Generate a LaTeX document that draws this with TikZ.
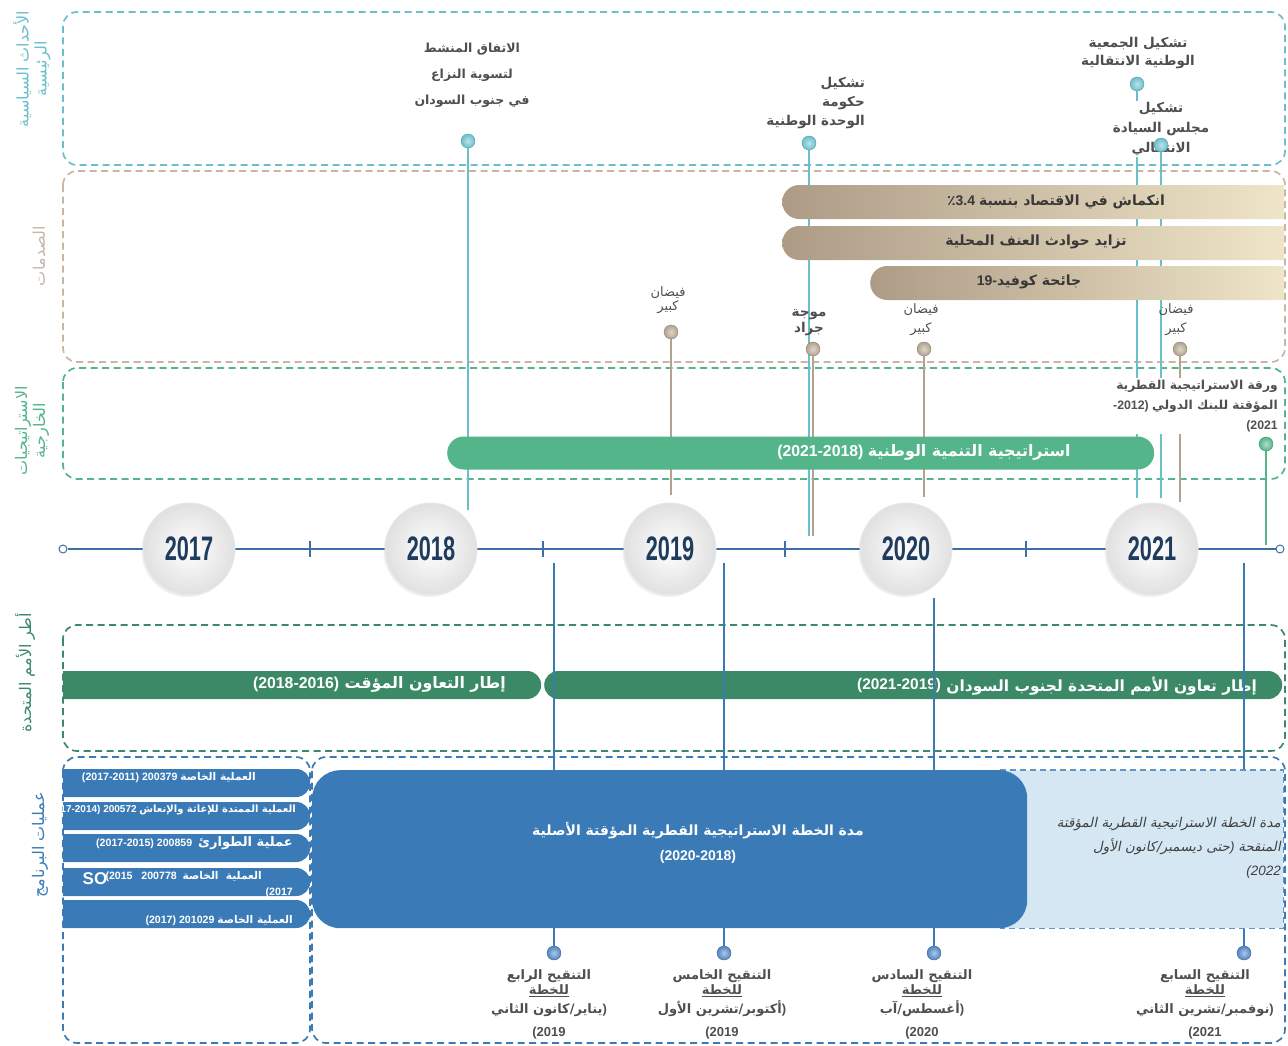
\documentclass[tikz,border=0pt]{standalone}
\usepackage{fontspec}
\usepackage{graphicx}
\setmainfont{Liberation Sans}
\newfontfamily\arabicfont[Script=Arabic]{DejaVu Sans}
\newfontfamily\arabicslant[Script=Arabic,FakeSlant=0.2]{DejaVu Sans}
\TeXXeTstate=1
\usetikzlibrary{positioning,shapes.misc,shadows}

\newcommand{\artxt}[1]{{\arabicfont\beginR #1\endR}}
\newcommand{\arslant}[1]{{\arabicslant\beginR #1\endR}}

\definecolor{polteal}{HTML}{6BBFCB}
\definecolor{shocktan}{HTML}{C6B6A4}
\definecolor{shockpin}{HTML}{B3A28D}
\definecolor{shockdark}{HTML}{AD9B86}
\definecolor{shocklight}{HTML}{EFE5C8}
\definecolor{stratgreen}{HTML}{54B58B}
\definecolor{ungreen}{HTML}{3C8968}
\definecolor{progblue}{HTML}{3A7BB7}
\definecolor{revblue}{HTML}{4F84C2}
\definecolor{palblue}{HTML}{D5E7F3}
\definecolor{axisblue}{HTML}{3D6FA6}
\definecolor{yearnavy}{HTML}{1F3C5E}
\definecolor{labgray}{HTML}{4F4F4F}

\tikzset{
	zone/.style={draw=#1, line width=1.7pt, dash pattern=on 7pt off 4.5pt, rounded corners=14pt},
	sidelab/.style={rotate=90, align=center, text=#1, font=\fontsize{16}{18}\selectfont},
	stem/.style={draw=#1, line width=1.4pt},
	evdot/.style={circle, inner sep=0pt, minimum size=14pt, inner color=#1!45, outer color=#1, draw=#1!80!black, line width=0.4pt},
	evlab/.style={text=labgray, align=center, inner sep=1pt, font=\fontsize{13.5}{#1}\selectfont\bfseries},
	yearball/.style={circle, minimum size=92pt, inner sep=0pt, inner color=white, outer color=black!12, draw=black!9, line width=1pt, text=yearnavy, font=\fontsize{34}{34}\selectfont\bfseries, drop shadow={shadow xshift=-1.5pt, shadow yshift=-2pt, opacity=0.12}},
	axend/.style={circle, draw=axisblue, fill=white, line width=1pt, minimum size=8pt, inner sep=0pt},
	axisline/.style={draw=axisblue, line width=1.4pt},
	shockbar/.style={rounded rectangle, rounded rectangle right arc=none, anchor=west, minimum height=34pt, inner sep=0pt, left color=shockdark, middle color=shockdark!80!shocklight, right color=shocklight},
	shocktext/.style={text=black!78, font=\fontsize{14}{16}\selectfont\bfseries},
	bartext/.style={text=white, inner sep=0pt, font=\fontsize{#1}{16}\selectfont\bfseries},
	opbar/.style={rounded rectangle, rounded rectangle left arc=none, anchor=west, fill=progblue, minimum width=247pt, minimum height=28pt, inner sep=0pt},
	optext/.style={text=white, anchor=east, inner sep=0pt, font=\fontsize{10.6}{12}\selectfont\bfseries},
	revlab/.style={text=labgray, align=center, anchor=north, font=\fontsize{13}{19}\selectfont\bfseries},
}

\begin{document}
\begin{tikzpicture}[x=1pt,y=-1pt]
	\useasboundingbox (0,0) rectangle (1288,1046);

	\draw[zone=polteal] (63,12) rectangle (1285,165);
	\draw[zone=shocktan] (63,171) rectangle (1285,362);
	\draw[zone=stratgreen] (63,368) rectangle (1285,479);
	\draw[zone=ungreen] (63,625) rectangle (1285,751);
	\draw[zone=progblue] (63,757) rectangle (310,1043);
	\draw[zone=progblue] (312,757) rectangle (1285,1043);

	\node[sidelab=polteal] (side-pol) at (32,69) {\artxt{الأحداث السياسية}\\\artxt{الرئيسية}};
	\node[sidelab=shocktan] (side-shock) at (39,256) {\artxt{الصدمات}};
	\node[sidelab=stratgreen] (side-strat) at (32,431) {\artxt{الاستراتيجيات}\\\artxt{الخارجية}};
	\node[sidelab=ungreen] (side-un) at (25,673) {\artxt{أطر الأمم المتحدة}};
	\node[sidelab=progblue] (side-prog) at (40,845) {\artxt{عمليات البرنامج}};

	\node[axend] (ax-l) at (63,549) {};
	\node[axend] (ax-r) at (1280,549) {};
	\draw[axisline] (ax-l) -- (ax-r);
	\foreach \x in {310,543,785,1026}
		\draw[axisline] (\x,541) -- (\x,557);

	\node[evdot=polteal] (cpa) at (468,141) {};
	\node[evdot=polteal] (gnu) at (809,143) {};
	\node[evdot=polteal] (tnla) at (1137,84) {};
	\coordinate (cpa-foot) at (468,510);
	\coordinate (gnu-foot) at (809,536);
	\coordinate (tnla-foot) at (1137,498);
	\coordinate (tsc-foot) at (1161,498);
	\draw[stem=polteal] (cpa) -- (cpa-foot);
	\draw[stem=polteal] (gnu) -- (gnu-foot);
	\draw[stem=polteal] (tnla) -- (tnla-foot);

	\node[evdot=shockpin] (flood19) at (671,332) {};
	\node[evdot=shockpin] (locust) at (813,349) {};
	\node[evdot=shockpin] (flood20) at (924,349) {};
	\node[evdot=shockpin] (flood21) at (1180,349) {};
	\coordinate (flood19-foot) at (671,495);
	\coordinate (locust-foot) at (813,536);
	\coordinate (flood20-foot) at (924,497);
	\coordinate (flood21-foot) at (1180,502);
	\foreach \s in {flood19,locust,flood20,flood21}
		\draw[stem=shockpin] (\s) -- (\s-foot);

	\node[evlab=26, font=\fontsize{12.5}{26}\selectfont\bfseries] (cpa-lab) at (472,75) {\artxt{الاتفاق المنشط}\\\artxt{لتسوية النزاع}\\\artxt{في جنوب السودان}};
	\node[evlab=19, align=right, anchor=east] (gnu-lab) at (866,103) {\artxt{تشكيل}\\\artxt{حكومة}\\\artxt{الوحدة الوطنية}};
	\node[evlab=18] (tnla-lab) at (1138,53) {\artxt{تشكيل الجمعية}\\\artxt{الوطنية الانتقالية}};
	\node[evlab=20, fill=white] (tsc-lab) at (1161,129) {\artxt{تشكيل}\\\artxt{مجلس السيادة}\\\artxt{الانتقالي}};
	\node[evdot=polteal] (tsc) at (1161,145) {};
	\draw[stem=polteal] (tsc) -- (tsc-foot);

	\node[evlab=14, font=\fontsize{13}{14}\selectfont] (flood19-lab) at (668,300) {\artxt{فيضان}\\\artxt{كبير}};
	\node[evlab=16] (locust-lab) at (809,323) {\artxt{موجة}\\\artxt{جراد}};
	\node[evlab=19, font=\fontsize{13}{19}\selectfont] (flood20-lab) at (921,320) {\artxt{فيضان}\\\artxt{كبير}};
	\node[evlab=19, font=\fontsize{13}{19}\selectfont] (flood21-lab) at (1176,320) {\artxt{فيضان}\\\artxt{كبير}};

	\node[shockbar, minimum width=502pt] (econ) at (782,202) {};
	\node[shockbar, minimum width=502pt] (violence) at (782,243) {};
	\node[shockbar, minimum width=414pt] (covid) at (870,283) {};
	\node[shocktext] (econ-lab) at (1056,202) {{\arabicfont ٪}3.4 \artxt{انكماش في الاقتصاد بنسبة}};
	\node[shocktext] (violence-lab) at (1036,242) {\artxt{تزايد حوادث العنف المحلية}};
	\node[shocktext] (covid-lab) at (1029,282) {19-\artxt{جائحة كوفيد}};

	\node[rounded rectangle, anchor=west, fill=stratgreen, minimum width=707pt, minimum height=33pt, inner sep=0pt] (nds) at (447,453) {};
	\node[bartext=15.8] (nds-lab) at (924,452) {(2021-2018) \artxt{استراتيجية التنمية الوطنية}};

	\node[evlab=20, font=\fontsize{12.3}{20}\selectfont\bfseries, align=right, anchor=north east, fill=white, inner sep=2pt] (wb-lab) at (1280,378) {\artxt{ورقة الاستراتيجية القطرية}\\-2012) \artxt{المؤقتة للبنك الدولي}\\(2021};
	\node[evdot=stratgreen] (wb) at (1266,444) {};
	\coordinate (wb-foot) at (1266,545);
	\draw[stem=stratgreen] (wb) -- (wb-foot);

	\foreach \yr/\x in {2017/189,2018/431,2019/670,2020/906,2021/1152}
		\node[yearball] (y\yr) at (\x,549) {\scalebox{0.64}[1]{\yr}};

	\node[rounded rectangle, rounded rectangle left arc=none, anchor=west, fill=ungreen, minimum width=478pt, minimum height=28pt, inner sep=0pt] (unicf) at (63,685) {};
	\node[rounded rectangle, anchor=west, fill=ungreen, minimum width=738pt, minimum height=28pt, inner sep=0pt] (unscf) at (544,685) {};
	\node[bartext=15.8, anchor=east] (unicf-lab) at (506,684) {\artxt{إطار التعاون المؤقت}};
	\node[bartext=15.8, left=5pt of unicf-lab] (unicf-yr) {(2018-2016)};
	\node[bartext=15.4, anchor=east] (unscf-lab) at (1257,686) {\artxt{إطار تعاون الأمم المتحدة لجنوب السودان}};
	\node[bartext=15.4, left=5pt of unscf-lab] (unscf-yr) {(2021-2019)};

	\foreach \r/\x/\t in {rev4/554/563,rev5/724/563,rev6/934/598,rev7/1244/563}{
		\node[evdot=revblue] (\r) at (\x,953) {};
		\coordinate (\r-top) at (\x,\t);
		\draw[stem=progblue] (\r) -- (\r-top);
	}

	\node[rectangle, anchor=north west, fill=palblue, minimum width=283pt, minimum height=158pt, inner sep=0pt] (cspext) at (1000,770) {};
	\draw[draw=progblue!80, line width=1.3pt, dash pattern=on 6pt off 4pt] (cspext.north west) -- (cspext.north east) -- (cspext.south east) -- (cspext.south west);
	\node[rectangle, rounded corners=28pt, anchor=north west, fill=progblue, minimum width=715pt, minimum height=158pt, inner sep=0pt] (csp) at (312,770) {};
	\node[bartext=14, align=center, font=\fontsize{14}{25}\selectfont\bfseries] (csp-lab) at (698,843) {\artxt{مدة الخطة الاستراتيجية القطرية المؤقتة الأصلية}\\(2020-2018)};
	\node[text=black!75, align=right, anchor=east, inner sep=0pt, font=\fontsize{13.5}{24}\selectfont] (cspext-lab) at (1281,848) {\arslant{مدة الخطة الاستراتيجية القطرية المؤقتة}\\\arslant{حتى ديسمبر/كانون الأول}{\itshape)} \arslant{المنقحة}\\{\itshape(2022}};

	\foreach \i/\y in {1/783,2/816,3/848,4/882,5/914}
		\node[opbar] (op\i) at (63,\y) {};
	\node[optext] (op1-lab) at (256,778) {(2017-2011) 200379 \artxt{العملية الخاصة}};
	\node[optext, font=\fontsize{10}{12}\selectfont\bfseries] (op2-lab) at (296,810) {(2017-2014) 200572 \artxt{العملية الممتدة للإغاثة والإنعاش}};
	\node[optext] (op3-lab) at (293,843) {(2017-2015) 200859 \ {\fontsize{13}{14}\selectfont\artxt{عملية الطوارئ}}};
	\node[optext] (op4-lab) at (262,877) {(2015 \ \ 200778 \ \artxt{العملية \ الخاصة}};
	\node[optext] (op4-cont) at (293,893) {(2017};
	\node[text=white, inner sep=0pt, font=\fontsize{17}{17}\selectfont\bfseries] (op4-so) at (95,879) {SO};
	\node[optext] (op5-lab) at (293,921) {(2017) 201029 \artxt{العملية الخاصة}};

	\node[revlab] (rev4-lab) at (549,966) {\artxt{التنقيح الرابع}\\[-4pt]\underline{\artxt{للخطة}}\\\artxt{يناير/كانون الثاني})\\[4pt](2019};
	\node[revlab] (rev5-lab) at (722,966) {\artxt{التنقيح الخامس}\\[-4pt]\underline{\artxt{للخطة}}\\\artxt{أكتوبر/تشرين الأول})\\[4pt](2019};
	\node[revlab] (rev6-lab) at (922,966) {\artxt{التنقيح السادس}\\[-4pt]\underline{\artxt{للخطة}}\\\artxt{أغسطس/آب})\\[4pt](2020};
	\node[revlab] (rev7-lab) at (1205,966) {\artxt{التنقيح السابع}\\[-4pt]\underline{\artxt{للخطة}}\\\artxt{نوفمبر/تشرين الثاني})\\[4pt](2021};
\end{tikzpicture}
\end{document}
